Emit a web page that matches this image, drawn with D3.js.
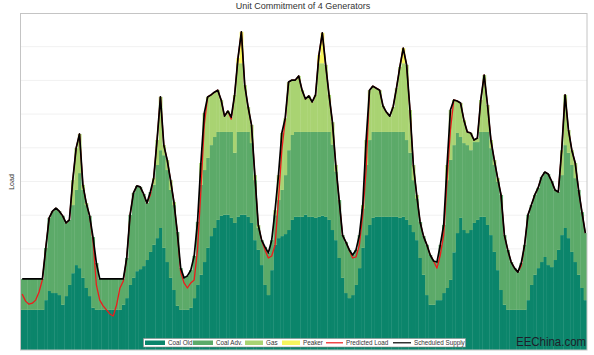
<!DOCTYPE html>
<html><head><meta charset="utf-8">
<script src="https://cdn.jsdelivr.net/npm/d3@7/dist/d3.min.js"></script>
<style>body{margin:0;background:#fff}svg{display:block;font-family:"Liberation Sans",Arial,sans-serif}</style>
</head><body><svg id="c" width="594" height="355"></svg>
<script>
// hourly values over one week (168 hours), MW
const coalOld=[
119,119,119,119,119,119,119,148,175,169,169,163,134,160,193,228,252,243,214,184,160,125,119,119,
119,119,119,119,119,119,134,154,193,214,234,240,249,267,291,312,332,362,303,261,214,178,131,119,
119,119,125,154,193,223,261,303,338,362,386,398,401,401,392,377,395,401,401,395,377,326,297,252,
193,163,237,312,332,338,344,356,386,395,395,395,401,395,395,392,395,398,395,386,356,326,273,214,
169,154,163,193,243,303,341,371,392,395,395,395,395,395,395,395,392,395,386,371,350,326,273,223,
163,134,134,148,148,169,184,208,290,347,392,356,347,356,377,386,395,395,371,341,291,237,178,134,
119,119,119,119,119,119,148,193,223,243,261,276,252,246,267,297,341,362,332,291,261,223,184,148];
const coalAdv=[
92,92,92,92,92,92,92,155,217,243,252,249,264,217,193,202,223,282,261,246,238,210,139,92,
92,92,92,92,92,92,77,119,208,252,253,244,214,169,178,178,217,231,275,273,261,252,219,124,
95,101,112,125,187,267,273,267,270,270,261,249,246,246,255,208,252,246,246,252,237,178,65,74,
113,125,89,88,113,137,175,237,252,252,252,252,246,252,252,255,252,249,252,261,254,204,172,127,
151,143,119,104,98,117,208,252,255,252,252,252,252,252,252,252,255,252,237,214,154,124,107,115,
149,148,130,113,164,202,320,356,318,297,240,258,261,237,240,231,252,252,276,258,258,263,282,207,
178,142,124,112,139,193,253,237,237,238,252,252,270,255,208,172,178,246,253,258,249,252,225,199];
const gas=[
0,0,0,0,0,0,0,0,0,0,0,0,0,0,0,74,124,116,15,6,0,0,0,0,
0,0,0,0,0,0,0,0,0,0,0,0,0,0,0,20,74,158,30,30,29,9,0,0,
0,0,0,0,0,65,169,181,149,133,124,95,47,62,44,172,204,204,139,74,54,15,9,0,
0,0,0,15,74,169,169,202,163,154,166,124,98,107,89,110,204,204,199,110,66,19,0,0,
0,0,0,0,0,10,74,148,136,130,124,77,59,47,74,130,193,204,223,127,45,10,0,0,
0,0,0,0,0,0,45,148,134,95,101,68,39,51,6,12,95,169,80,24,15,10,0,0,
0,0,0,0,0,0,0,0,0,0,0,0,0,0,0,0,74,149,68,44,45,0,0,0];
const peaker=[
0,0,0,0,0,0,0,0,0,0,0,0,0,0,0,0,0,0,0,0,0,0,0,0,
0,0,0,0,0,0,0,0,0,0,0,0,0,0,0,0,0,0,0,0,0,0,0,0,
0,0,0,0,0,0,0,0,0,0,0,0,0,0,0,0,15,93,0,0,0,0,0,0,
0,0,0,0,0,0,0,0,0,0,0,0,0,0,0,0,24,90,0,0,0,0,0,0,
0,0,0,0,0,0,0,0,0,0,0,0,0,0,0,0,0,45,0,0,0,0,0,0,
0,0,0,0,0,0,0,0,0,0,0,0,0,0,0,0,0,0,0,0,0,0,0,0,
0,0,0,0,0,0,0,0,0,0,0,0,0,0,0,0,0,0,0,0,0,0,0,0];
const predictedLoad=[
166,145,136,139,148,172,209,303,392,412,421,412,398,377,386,504,599,641,490,436,398,326,193,148,
131,119,107,101,134,184,205,273,401,466,487,484,463,436,460,510,623,751,608,564,504,439,350,231,
199,184,199,208,297,475,668,751,757,765,771,742,694,709,685,757,866,944,786,721,668,519,371,326,
297,273,279,312,445,593,682,795,801,801,813,771,745,754,736,757,875,941,846,757,676,549,445,341,
320,297,273,276,312,401,534,771,783,777,771,724,706,694,721,777,840,896,846,712,549,460,380,338,
312,282,264,243,282,341,504,653,742,739,733,682,647,644,623,629,742,816,727,623,564,510,460,341,
297,261,243,231,250,312,401,430,460,481,513,528,522,501,475,469,593,757,653,593,555,475,409,347];
const hours=d3.range(168);
const seriesNames=["Coal Old","Coal Adv.","Gas","Peaker"];
const seriesColors=["#0b856b","#5caa69","#a9d372","#f6f55e"];
const gridValues=[100,200,300,400,500,600,700,800,900];

const svg=d3.select("#c");
const x=d3.scaleBand().domain(hours).range([20.5,587]).padding(0);
const y=d3.scaleLinear().domain([0,1000]).range([350,13]);
const cx=h=>x(h)+x.bandwidth()/2;

// title
svg.append("text").attr("x",303).attr("y",9).attr("text-anchor","middle")
  .attr("font-size",9).attr("fill","#333").text("Unit Commitment of 4 Generators");
svg.append("text").attr("transform","translate(14,182) rotate(-90)").attr("text-anchor","middle")
  .attr("font-size",7).attr("fill","#333").text("Load");

// grid
svg.append("g").selectAll("line").data(gridValues).join("line")
  .attr("x1",21).attr("x2",587).attr("y1",d=>y(d)).attr("y2",d=>y(d))
  .attr("stroke","#f1f1f1").attr("stroke-width",1);

// stacked bars
const rows=hours.map(i=>({"Coal Old":coalOld[i],"Coal Adv.":coalAdv[i],"Gas":gas[i],"Peaker":peaker[i]}));
const stacked=d3.stack().keys(seriesNames)(rows);
svg.append("g").selectAll("g").data(stacked).join("g")
  .attr("fill",(d,i)=>seriesColors[i])
  .selectAll("rect").data(d=>d.map((v,i)=>({v,i}))).join("rect")
  .attr("x",d=>x(d.i)).attr("width",d=>d.i===hours.length-1?x.bandwidth():x.bandwidth()+0.35)
  .attr("y",d=>y(d.v[1])).attr("height",d=>Math.max(0,y(d.v[0])-y(d.v[1])));

// lines
const supply=stacked[stacked.length-1].map(d=>d[1]);
const line=d3.line().x((d,i)=>cx(i)).y(d=>y(d));
svg.append("path").datum(predictedLoad).attr("d",line).attr("fill","none")
  .attr("stroke","#ee1c1c").attr("stroke-width",1.3).attr("stroke-linejoin","round");
svg.append("path").datum(supply).attr("d",line).attr("fill","none")
  .attr("stroke","#000").attr("stroke-width",1.7).attr("stroke-linejoin","round");

// frame
svg.append("rect").attr("x",20.5).attr("y",13.5).attr("width",566.5).attr("height",336.5)
  .attr("fill","none").attr("stroke","#c4c4c4").attr("stroke-width",1);

// legend
const lg=svg.append("g");
lg.append("rect").attr("x",143.5).attr("y",338.5).attr("width",322).attr("height",8.5)
  .attr("fill","#fff").attr("stroke","#8a8a8a").attr("stroke-width",0.6);
const legendItems=[
  {name:"Coal Old",type:"rect",color:seriesColors[0],x:145,w:20},
  {name:"Coal Adv.",type:"rect",color:seriesColors[1],x:193,w:20},
  {name:"Gas",type:"rect",color:seriesColors[2],x:245,w:18},
  {name:"Peaker",type:"rect",color:seriesColors[3],x:282,w:18},
  {name:"Predicted Load",type:"line",color:"#ee1c1c",x:326,w:17},
  {name:"Scheduled Supply",type:"line",color:"#000",x:393,w:18}];
legendItems.forEach(it=>{
  if(it.type==="rect") lg.append("rect").attr("x",it.x).attr("y",340.5).attr("width",it.w).attr("height",4.5).attr("fill",it.color);
  else lg.append("line").attr("x1",it.x).attr("x2",it.x+it.w).attr("y1",342.8).attr("y2",342.8).attr("stroke",it.color).attr("stroke-width",1.2);
  lg.append("text").attr("x",it.x+it.w+3).attr("y",345.2).attr("font-size",6.3).attr("fill","#333").text(it.name);
});

// watermark
svg.append("g").attr("transform","translate(516,346) scale(0.85,1)")
  .append("text").attr("x",0).attr("y",0).attr("font-size",13.5)
  .attr("font-family","'Liberation Sans',Arial,sans-serif")
  .attr("fill","#1e1e2a").text("EEChina.com");
</script></body></html>
